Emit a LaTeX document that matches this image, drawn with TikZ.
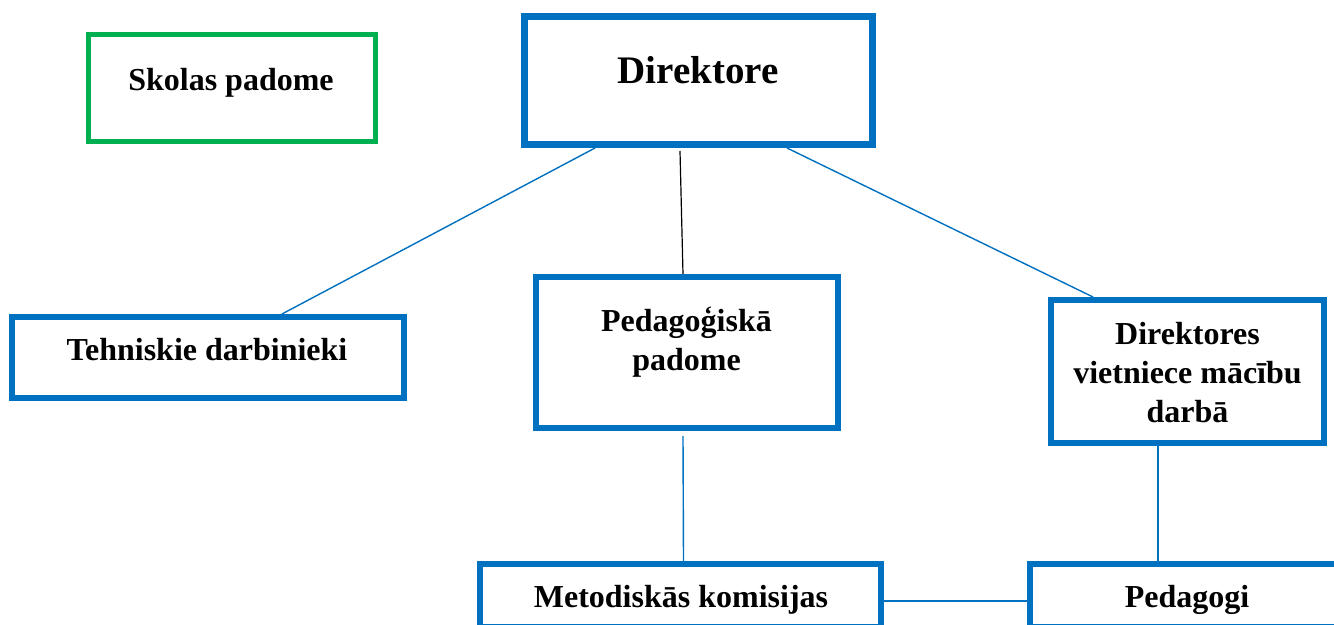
\documentclass[tikz,border=0pt]{standalone}
\usepackage{fontspec}
\setmainfont{Liberation Serif}
\definecolor{orgblue}{HTML}{0070C0}
\definecolor{orggreen}{HTML}{00B050}
\begin{document}
\begin{tikzpicture}[x=0.5pt,y=-0.5pt,
  box/.style = {shape=rectangle, draw=orgblue,
    line width=3pt, inner sep=0pt, outer sep=1.5pt},
  head/.style = {line width=3.5pt, outer sep=1.75pt},
  council/.style = {draw=orggreen, line width=2.5pt, outer sep=1.25pt},
  lbl/.style = {font=\fontsize{16}{19.6}\selectfont\bfseries,
    align=center, anchor=base, inner sep=0pt},
  biglbl/.style = {font=\fontsize{19.5}{24}\selectfont\bfseries},
  link/.style = {draw=orgblue, line width=0.7pt}]
\useasboundingbox (0,0) rectangle (1334,625);
\clip (0,0) rectangle (1334,625);
% boxes
\node[box, council, minimum width=143.5pt, minimum height=53.5pt] (skola) at (232,88) {};
\node[box, head, minimum width=174pt, minimum height=64pt] (dir) at (698.5,80.5) {};
\node[box, minimum width=196pt, minimum height=40.5pt] (teh) at (208,357.5) {};
\node[box, minimum width=151pt, minimum height=75.5pt] (ped) at (687,352.5) {};
\node[box, minimum width=136.5pt, minimum height=71.5pt] (viet) at (1187.5,371.5) {};
\node[box, minimum width=200.5pt, minimum height=31.5pt] (met) at (680.5,595.5) {};
\node[box, minimum width=157pt, minimum height=31.5pt] (pedg) at (1187,595.5) {};
% texts
\node[lbl] (skolatxt) at (231,91) {Skolas padome};
\node[lbl, biglbl] (dirtxt) at (698,84) {Direktore};
\node[lbl] (tehtxt) at (207,361) {Tehniskie darbinieki};
\node[lbl] (pedtxt) at (686.5,371) {Pedagoģiskā\\padome};
\node[lbl] (viettxt) at (1187.5,423) {Direktores\\vietniece mācību\\darbā};
\node[lbl] (mettxt) at (681,607) {Metodiskās komisijas};
\node[lbl] (pedgtxt) at (1187,607) {Pedagogi};
% connectors
\draw[link] ([xshift=-51.75pt]dir.south) -- ([xshift=37pt]teh.north);
\draw[black, line width=0.6pt] ([xshift=-9.25pt,yshift=-1.5pt]dir.south) -- ([xshift=-2pt]ped.north);
\draw[link] ([xshift=44.25pt]dir.south) -- ([xshift=-47.25pt]viet.north);
\draw[link] ([xshift=-2pt,yshift=-2.5pt]ped.south) -- ([xshift=1.5pt]met.north);
\draw[link] ([xshift=-14.75pt]viet.south) -- ([xshift=-14.5pt]pedg.north);
\draw[link, line width=0.9pt] ([yshift=-2.75pt]met.east) -- ([yshift=-2.75pt]pedg.west);
\end{tikzpicture}
\end{document}
